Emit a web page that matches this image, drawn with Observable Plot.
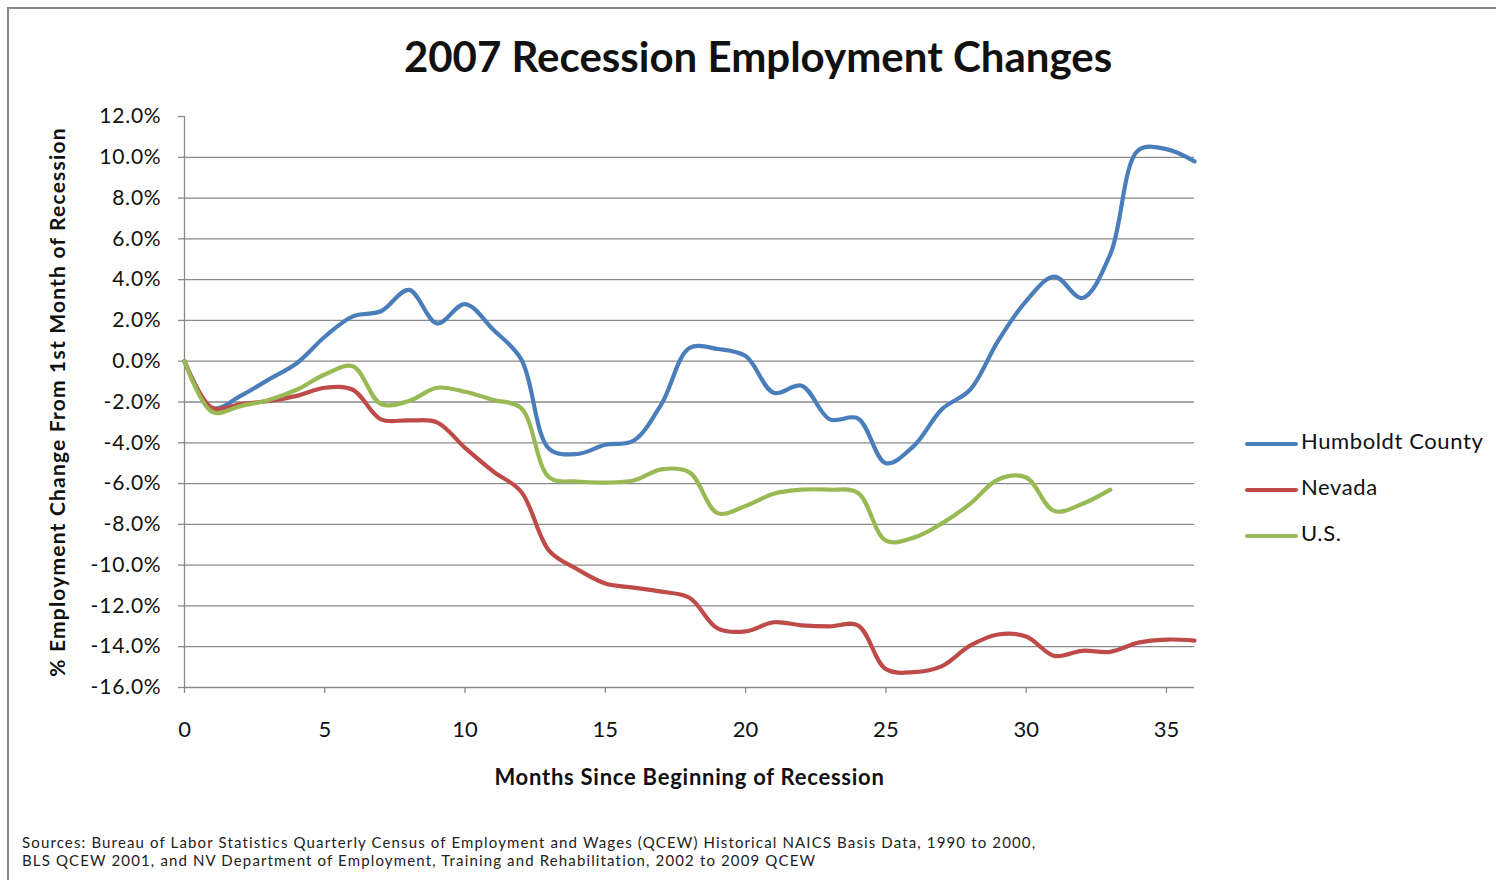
<!DOCTYPE html>
<html>
<head>
<meta charset="utf-8">
<script src="https://cdn.jsdelivr.net/npm/d3@7"></script>
<script src="https://cdn.jsdelivr.net/npm/@observablehq/plot@0.6"></script>
<style>
  html, body { margin: 0; padding: 0; background: #fff; }
  #page { position: relative; width: 1496px; height: 880px; overflow: hidden; font-family: Lato, "Open Sans", sans-serif; color: #111; }
  #frame { position: absolute; left: 7px; top: 7px; right: -10px; bottom: -10px; border-left: 2px solid #888; border-top: 2px solid #888; }
  #title { position: absolute; left: 20px; width: 1476px; top: 31px; text-align: center; font-size: 42px; font-weight: bold; }
  #chart { position: absolute; left: 0; top: 100px; }
  #legend { position: absolute; left: 1245px; top: 427px; font-size: 22px; letter-spacing: 0.6px; }
  .item { position: relative; height: 46px; }
  .sw { position: absolute; left: 0; top: 15px; width: 53px; height: 4px; border-radius: 2px; }
  .lab { position: absolute; left: 56px; top: 0; white-space: nowrap; }
  #src { position: absolute; left: 22px; top: 834px; font-size: 15px; line-height: 17.5px; letter-spacing: 1.14px; color: #222; }
</style>
</head>
<body>
<div id="page">
  <div id="frame"></div>
  <div id="title"></div>
  <div id="chart"></div>
  <div id="legend"></div>
  <div id="src"></div>
</div>
<script>
const titleText = "2007 Recession Employment Changes";
const xLabel = "Months Since Beginning of Recession";
const yLabel = "% Employment Change From 1st Month of Recession";
const sourceLines = [
  "Sources: Bureau of Labor Statistics Quarterly Census of Employment and Wages (QCEW) Historical NAICS Basis Data, 1990 to 2000,",
  "BLS QCEW 2001, and NV Department of Employment, Training and Rehabilitation, 2002 to 2009 QCEW"
];

const seriesNames = ["Humboldt County", "Nevada", "U.S."];
const seriesColors = ["#4a7ebb", "#be4b48", "#98b954"];

const months = [0,1,2,3,4,5,6,7,8,9,10,11,12,13,14,15,16,17,18,19,20,21,22,23,24,25,26,27,28,29,30,31,32,33,34,35,36];
const humboldt = [0,-2.3,-1.7,-0.9,-0.1,1.2,2.2,2.45,3.5,1.85,2.8,1.55,0.1,-4.3,-4.55,-4.1,-3.9,-2.1,0.65,0.6,0.25,-1.55,-1.2,-2.85,-2.8,-5.0,-4.15,-2.35,-1.4,1.0,2.95,4.15,3.1,5.25,10.35,10.4,9.8];
const nevada = [0,-2.3,-2.1,-1.95,-1.7,-1.3,-1.4,-2.85,-2.9,-3.0,-4.25,-5.4,-6.4,-9.3,-10.2,-10.9,-11.1,-11.3,-11.6,-13.1,-13.25,-12.8,-12.95,-13.0,-12.95,-15.1,-15.25,-14.95,-13.95,-13.4,-13.5,-14.45,-14.2,-14.25,-13.8,-13.65,-13.7];
const us = [0,-2.5,-2.2,-1.9,-1.4,-0.65,-0.25,-2.1,-1.95,-1.3,-1.5,-1.9,-2.3,-5.7,-5.9,-5.95,-5.85,-5.3,-5.45,-7.45,-7.1,-6.5,-6.3,-6.3,-6.45,-8.8,-8.65,-7.95,-7.0,-5.8,-5.7,-7.35,-7.0,-6.3];

const xTicks = [0,5,10,15,20,25,30,35];
const yTicks = [12,10,8,6,4,2,0,-2,-4,-6,-8,-10,-12,-14,-16];
const yGrid = [10,8,6,4,2,0,-2,-4,-6,-8,-10,-12,-14];

const valuesBySeries = [humboldt, nevada, us];
const data = [];
valuesBySeries.forEach((vals, i) => {
  vals.forEach((v, j) => data.push({series: seriesNames[i], month: months[j], value: v}));
});

document.getElementById("title").textContent = titleText;

const chart = Plot.plot({
  width: 1230,
  height: 700,
  marginLeft: 184,
  marginRight: 36,
  marginTop: 16,
  marginBottom: 113,
  style: {fontFamily: "Lato, 'Open Sans', sans-serif", color: "#111", background: "transparent", overflow: "visible"},
  x: {domain: [0, 36]},
  y: {domain: [-16, 12]},
  color: {domain: seriesNames, range: seriesColors},
  marks: [
    Plot.gridY(yGrid, {stroke: "#8a8a8a", strokeOpacity: 1, strokeWidth: 1.3}),
    Plot.ruleY([-16], {stroke: "#8a8a8a", strokeWidth: 1.3}),
    Plot.ruleX([0], {stroke: "#8a8a8a", strokeWidth: 1.3}),
    Plot.axisY({ticks: yTicks, tickFormat: d => d.toFixed(1) + "%", tickSize: 6, tickPadding: 17, fontSize: 21, label: null, stroke: "#8a8a8a", strokeWidth: 1.3, className: "yticks"}),
    Plot.axisX({ticks: xTicks, tickFormat: d => String(d), tickSize: 6, tickPadding: 28, fontSize: 22, label: null, stroke: "#8a8a8a", strokeWidth: 1.3}),
    Plot.line(data, {x: "month", y: "value", stroke: "series", z: "series", curve: "catmull-rom", strokeWidth: 4.2, strokeLinecap: "round", strokeLinejoin: "round"}),
    Plot.text([yLabel], {text: d => d, frameAnchor: "left", dx: -126, rotate: -90, textAnchor: "middle", lineAnchor: "middle", fontSize: 21, fontWeight: "bold", fill: "#111"}),
    Plot.text([xLabel], {text: d => d, frameAnchor: "bottom", dy: 90, textAnchor: "middle", lineAnchor: "middle", fontSize: 22, fontWeight: "bold", fill: "#111"})
  ]
});
document.getElementById("chart").appendChild(chart);

// letter spacing tweaks on SVG text
d3.select(chart).selectAll("text").each(function() {
  const t = this.textContent;
  if (t === yLabel) this.style.letterSpacing = "1.2px";
  else if (t === xLabel) this.style.letterSpacing = "0.75px";
  else if (t.endsWith("%")) this.style.letterSpacing = "0.8px";
});

const legend = document.getElementById("legend");
seriesNames.forEach((name, i) => {
  const item = document.createElement("div");
  item.className = "item";
  const sw = document.createElement("div");
  sw.className = "sw";
  sw.style.background = seriesColors[i];
  const lab = document.createElement("div");
  lab.className = "lab";
  lab.textContent = name;
  item.appendChild(sw);
  item.appendChild(lab);
  legend.appendChild(item);
});

const src = document.getElementById("src");
sourceLines.forEach(line => {
  const d = document.createElement("div");
  d.textContent = line;
  src.appendChild(d);
});
</script>
</body>
</html>
